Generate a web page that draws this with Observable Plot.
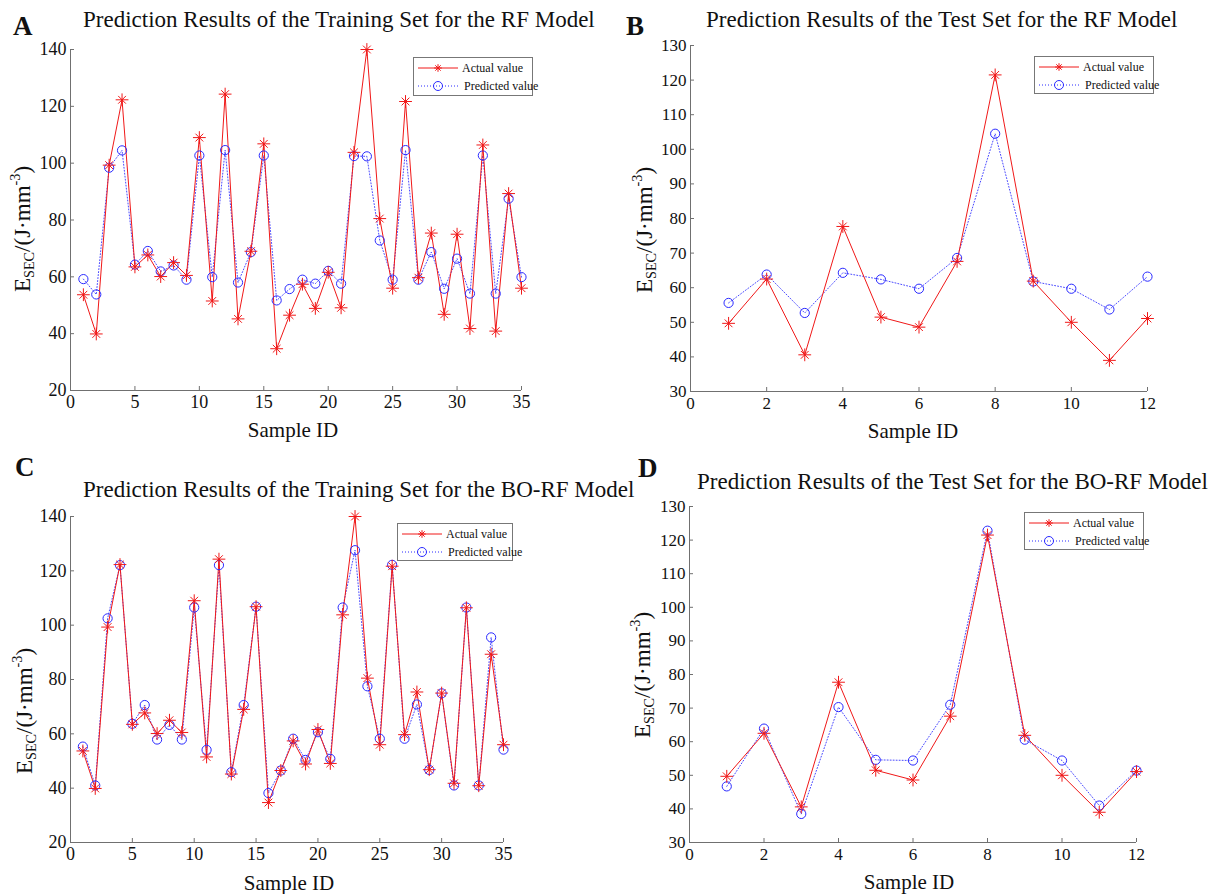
<!DOCTYPE html>
<html>
<head>
<meta charset="utf-8">
<script src="https://cdn.jsdelivr.net/npm/d3@7"></script>
<script src="https://cdn.jsdelivr.net/npm/@observablehq/plot@0.6"></script>
<style>
  html, body { margin: 0; padding: 0; background: #fff; }
  #fig { position: relative; width: 1216px; height: 894px; background: #fff; overflow: hidden;
         font-family: "Liberation Serif", "Times New Roman", serif; color: #111; }
  .abs { position: absolute; white-space: nowrap; }
  .title { font-size: 23px; transform: translateY(-50%); }
  .letter { font-size: 27px; font-weight: bold; transform: translateY(-50%); }
  .ylab { font-size: 23px; transform: translate(-50%, -50%) rotate(-90deg); }
  .ylab sub { font-size: 0.62em; vertical-align: -0.25em; line-height: 0; }
  .ylab sup { font-size: 0.62em; vertical-align: 0.7em; line-height: 0; }
  .xlab { font-size: 21px; transform: translate(-50%, -50%); }
  .legend { border: 1px solid #777; background: #fff; box-sizing: border-box; font-size: 12px; }
  .legend .row { position: absolute; left: 0; height: 16px; display: flex; align-items: center; }
  .legend svg { display: block; }
  .panel svg { overflow: visible; }
  .panel svg text { font-family: "Liberation Serif", "Times New Roman", serif !important; }
</style>
</head>
<body>
<div id="fig"></div>
<script>
// ---------------- data ----------------
const trainIds = [1,2,3,4,5,6,7,8,9,10,11,12,13,14,15,16,17,18,19,20,21,22,23,24,25,26,27,28,29,30,31,32,33,34,35];
const trainActual = [53.7,39.9,99.3,122.3,63.5,67.7,60.1,65.0,60.5,109.0,51.5,124.3,45.2,69.0,106.8,34.7,46.5,57.4,48.9,61.6,49.1,103.8,140.0,80.5,56.0,121.7,59.7,75.4,46.8,75.0,41.8,106.4,40.9,89.3,56.0];
const trainPredRF = [59.2,53.8,98.4,104.5,64.3,69.1,61.9,64.0,59.0,102.7,59.9,104.6,58.0,68.7,102.7,51.7,55.7,59.0,57.6,62.1,57.6,102.5,102.4,72.8,59.0,104.6,59.0,68.7,55.8,66.4,54.1,102.7,54.1,87.5,59.9];
const trainPredBORF = [55.3,41.0,102.5,122.1,63.7,70.6,57.9,63.3,57.9,106.5,54.1,122.1,45.9,70.6,106.8,38.2,46.5,58.2,50.4,60.6,50.8,106.5,127.6,77.5,58.2,122.2,58.2,70.8,46.7,74.9,41.0,106.5,41.0,95.5,54.2];

const testIds = [1,2,3,4,5,6,7,8,9,10,11,12];
const testActual = [49.7,62.5,40.6,77.7,51.5,48.6,67.6,121.5,61.9,50.0,39.0,51.1];
const testPredRF = [55.6,63.8,52.7,64.3,62.4,59.7,68.6,104.5,61.8,59.7,53.7,63.2];
const testPredBORF = [46.7,63.9,38.5,70.3,54.6,54.4,71.0,122.8,60.6,54.4,41.0,51.4];

const trainXTicks = [0,5,10,15,20,25,30,35];
const trainYTicks = [20,40,60,80,100,120,140];
const testXTicks = [0,2,4,6,8,10,12];
const testYTicks = [30,40,50,60,70,80,90,100,110,120,130];

const panelLetters = ["A","B","C","D"];
const panelTitles = [
  "Prediction Results of the Training Set for the RF Model",
  "Prediction Results of the Test Set for the RF Model",
  "Prediction Results of the Training Set for the BO-RF Model",
  "Prediction Results of the Test Set for the BO-RF Model"
];
const xAxisLabel = "Sample ID";
const legendLabels = ["Actual value", "Predicted value"];

// ---------------- style ----------------
const RED = "#f01818";
const BLUE = "#2a2aff";
const AXIS = "#707070";
const SERIF = "Liberation Serif, Times New Roman, serif";
const symPlus = d3.symbolPlus || "cross";
const symTimes = d3.symbolTimes || "asterisk";

const fig = document.getElementById("fig");

function addDiv(cls, left, top, html) {
  const d = document.createElement("div");
  d.className = "abs " + cls;
  d.style.left = left + "px";
  d.style.top = top + "px";
  d.innerHTML = html;
  fig.appendChild(d);
  return d;
}

function legend(x0, y0, w, h) {
  const box = addDiv("legend", x0, y0, "");
  box.style.width = w + "px";
  box.style.height = h + "px";
  const rows = [
    {label: legendLabels[0], kind: "actual", top: 2},
    {label: legendLabels[1], kind: "pred", top: 20}
  ];
  for (const r of rows) {
    const row = document.createElement("div");
    row.className = "row";
    row.style.top = r.top + "px";
    const ns = "http://www.w3.org/2000/svg";
    const s = document.createElementNS(ns, "svg");
    s.setAttribute("width", 46); s.setAttribute("height", 16);
    if (r.kind === "actual") {
      s.innerHTML = `<line x1="4" x2="44" y1="8" y2="8" stroke="${RED}" stroke-width="1"/>
        <path d="M24,4.2V11.8M20.2,8H27.8M21.3,5.3L26.7,10.7M26.7,5.3L21.3,10.7" stroke="${RED}" stroke-width="1"/>`;
    } else {
      s.innerHTML = `<line x1="4" x2="44" y1="8" y2="8" stroke="${BLUE}" stroke-width="1" stroke-dasharray="1,2"/>
        <circle cx="24" cy="8" r="4.5" fill="none" stroke="${BLUE}" stroke-width="1"/>`;
    }
    row.appendChild(s);
    const t = document.createElement("span");
    t.textContent = r.label;
    t.style.marginLeft = (r.kind === "actual" ? "2px" : "4px");
    row.appendChild(t);
    box.appendChild(row);
  }
}

function panel(cfg) {
  const {ids, actual, pred, xTicks, yTicks, px0, px1, py0, py1, fontSize} = cfg;
  const mL = 60, mT = 15, mR = 30, mB = 35;
  const width = (px1 - px0) + mL + mR;
  const height = (py1 - py0) + mT + mB;
  const rows = ids.map((id, i) => ({id, actual: actual[i], pred: pred[i]}));
  const xmin = xTicks[0], xmax = xTicks[xTicks.length - 1];
  const ymin = yTicks[0], ymax = yTicks[yTicks.length - 1];
  const tlY = (ymax - ymin) * 4 / (py1 - py0);
  const tlX = (xmax - xmin) * 4 / (px1 - px0);
  const chart = Plot.plot({
    width, height,
    marginLeft: mL, marginTop: mT, marginRight: mR, marginBottom: mB,
    x: {domain: [xmin, xmax]},
    y: {domain: [ymin, ymax]},
    style: {background: "transparent", fontFamily: SERIF, fontSize: fontSize + "px", color: "#111", overflow: "visible"},
    marks: [
      Plot.axisX({ticks: xTicks, tickSize: 0, tickPadding: 5, label: null, tickFormat: d => String(d), fontFamily: SERIF, fontSize}),
      Plot.axisY({ticks: yTicks, tickSize: 0, tickPadding: 4, label: null, tickFormat: d => String(d), fontFamily: SERIF, fontSize}),
      Plot.ruleY([ymin], {stroke: AXIS, strokeWidth: 1}),
      Plot.ruleX([xmin], {stroke: AXIS, strokeWidth: 1}),
      Plot.ruleX(xTicks, {x: d => d, y1: ymin, y2: ymin + tlY, stroke: AXIS}),
      Plot.ruleY(yTicks, {y: d => d, x1: xmin, x2: xmin + tlX, stroke: AXIS}),
      Plot.line(rows, {x: "id", y: "pred", stroke: BLUE, strokeWidth: 1, strokeDasharray: "1,2", strokeOpacity: 0.85}),
      Plot.line(rows, {x: "id", y: "actual", stroke: RED, strokeWidth: 1}),
      Plot.dot(rows, {x: "id", y: "pred", r: 4.6, stroke: BLUE, fill: "none", strokeWidth: 1}),
      Plot.dot(rows, {x: "id", y: "actual", symbol: symPlus, r: 4.2, stroke: RED, strokeWidth: 1}),
      Plot.dot(rows, {x: "id", y: "actual", symbol: symTimes, r: 3.6, stroke: RED, strokeWidth: 1})
    ]
  });
  chart.setAttribute("font-family", SERIF);
  chart.style.fontFamily = SERIF;
  const wrap = document.createElement("div");
  wrap.className = "abs panel";
  wrap.style.left = (px0 - mL) + "px";
  wrap.style.top = (py0 - mT) + "px";
  wrap.appendChild(chart);
  fig.appendChild(wrap);

  addDiv("letter", cfg.letterX, cfg.letterY, cfg.letter);
  addDiv("title", cfg.titleX, cfg.titleY, cfg.title);
  addDiv("ylab", cfg.ylabX, cfg.ylabY, "E<sub>SEC</sub>/(J·mm<sup>-3</sup>)");
  addDiv("xlab", cfg.xlabX, cfg.xlabY, xAxisLabel);
  legend(cfg.legX, cfg.legY, cfg.legW, cfg.legH);
}

panel({ids: trainIds, actual: trainActual, pred: trainPredRF, xTicks: trainXTicks, yTicks: trainYTicks,
  px0: 70, px1: 521, py0: 49, py1: 390, fontSize: 18,
  letter: panelLetters[0], letterX: 13, letterY: 26, title: panelTitles[0], titleX: 83, titleY: 20,
  ylabX: 23, ylabY: 229, xlabX: 293, xlabY: 430, legX: 413, legY: 57, legW: 120, legH: 39});

panel({ids: testIds, actual: testActual, pred: testPredRF, xTicks: testXTicks, yTicks: testYTicks,
  px0: 690, px1: 1147, py0: 45, py1: 391, fontSize: 17,
  letter: panelLetters[1], letterX: 626, letterY: 26, title: panelTitles[1], titleX: 706, titleY: 20,
  ylabX: 645, ylabY: 230, xlabX: 913, xlabY: 431, legX: 1034, legY: 56, legW: 120, legH: 38});

panel({ids: trainIds, actual: trainActual, pred: trainPredBORF, xTicks: trainXTicks, yTicks: trainYTicks,
  px0: 70, px1: 503, py0: 516, py1: 842, fontSize: 18,
  letter: panelLetters[2], letterX: 15, letterY: 467, title: panelTitles[2], titleX: 83, titleY: 490,
  ylabX: 25, ylabY: 711, xlabX: 289, xlabY: 883, legX: 397, legY: 523, legW: 116, legH: 38});

panel({ids: testIds, actual: testActual, pred: testPredBORF, xTicks: testXTicks, yTicks: testYTicks,
  px0: 689, px1: 1136, py0: 506, py1: 842, fontSize: 17,
  letter: panelLetters[3], letterX: 638, letterY: 468, title: panelTitles[3], titleX: 697, titleY: 482,
  ylabX: 643, ylabY: 675, xlabX: 909, xlabY: 882, legX: 1024, legY: 512, legW: 120, legH: 38});
</script>
</body>
</html>
